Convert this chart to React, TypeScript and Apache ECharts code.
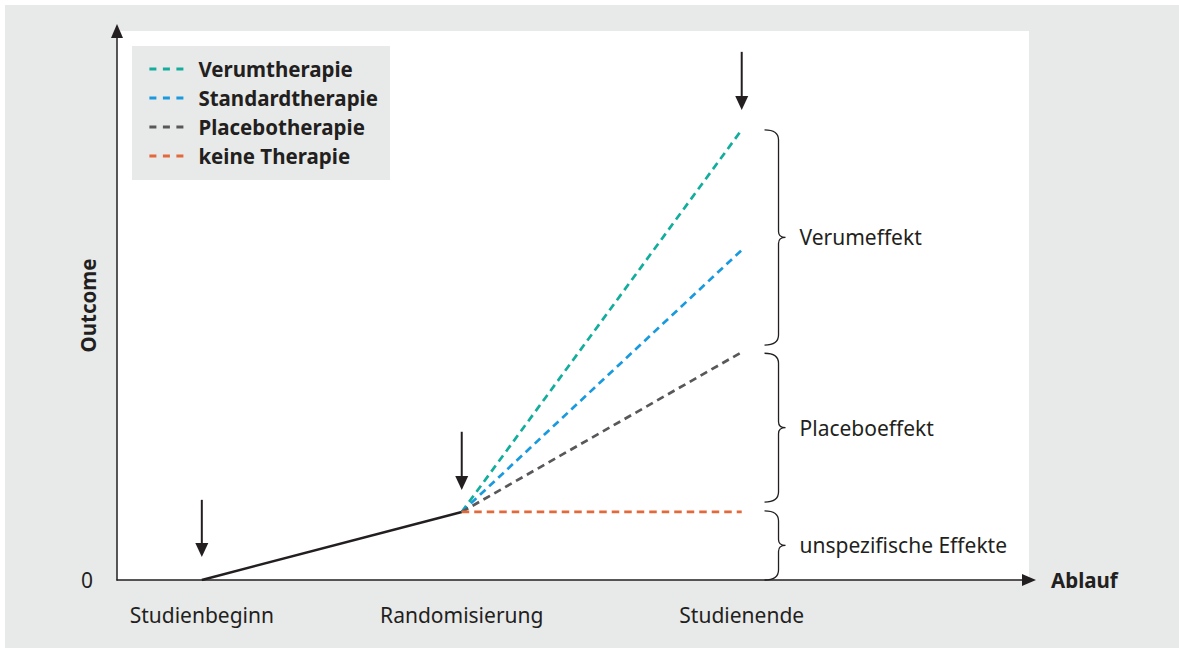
import React, { useEffect, useRef } from "react";
import * as echarts from "echarts";

// ---- data ----
const phaseNames = ["Studienbeginn", "Randomisierung", "Studienende"];
const phaseX = [9.3, 37.8, 68.5];
const startY = 0;
const randomY = 12.4;

const therapyNames = ["Verumtherapie", "Standardtherapie", "Placebotherapie", "keine Therapie"];
const therapyEnd = [82, 60.1, 41.5, 12.4];
const therapyColors = ["#12ad9c", "#1a9ade", "#58585a", "#e3683a"];

const arrowTop = [14.6, 27.0, 96.2];
const arrowTip = [4.2, 16.4, 85.6];

const braceLabels = ["Verumeffekt", "Placeboeffekt", "unspezifische Effekte"];
const braceFrom = [82, 41.3, 12.6];
const braceTo = [42.8, 14.2, 0];
const braceX = 71.0;

const yTickLabels = ["0"];
const xAxisName = "Ablauf";
const yAxisName = "Outcome";

const INK = "#231f20";
const FONT = "'Noto Sans', sans-serif";
const FS = 21;
const FSB = 20.5;

export default function App() {
  const ref = useRef<HTMLDivElement>(null);
  useEffect(() => {
    if (!ref.current) return;
    const chart = echarts.init(ref.current, null, { renderer: "svg" });

    const therapySeries = therapyNames.map((name, i) => ({
      name,
      type: "line",
      data: [
        [phaseX[1], randomY],
        [phaseX[2], therapyEnd[i]],
      ],
      symbol: "none",
      lineStyle: { color: therapyColors[i], width: 2.7, type: [7.5, 5] },
      itemStyle: { color: therapyColors[i] },
      z: 3,
    }));

    const option: any = {
      animation: false,
      backgroundColor: "#ffffff",
      graphic: [
        {
          type: "rect",
          shape: { x: 5, y: 5, width: 1174, height: 643 },
          style: { fill: "#e8e9e9" },
          z: -10,
          silent: true,
        },
      ],
      grid: {
        left: 117,
        top: 31,
        width: 912,
        height: 549,
        show: true,
        backgroundColor: "#ffffff",
        borderWidth: 0,
        containLabel: false,
      },
      legend: {
        data: therapyNames,
        orient: "vertical",
        left: 132,
        top: 46,
        backgroundColor: "#e8e9e9",
        padding: [12, 12, 13, 16],
        itemWidth: 34,
        itemHeight: 14,
        itemGap: 7,
        selectedMode: false,
        itemStyle: { opacity: 0 },
        lineStyle: { width: 2.8, type: [7, 6.5], cap: "butt" },
        textStyle: {
          fontFamily: FONT,
          fontWeight: "bold",
          fontSize: FSB,
          color: INK,
          lineHeight: 22,
          padding: [0, 0, 0, 10],
        },
      },
      xAxis: {
        type: "value",
        min: 0,
        max: 100,
        name: xAxisName,
        nameLocation: "end",
        nameGap: 22,
        nameTextStyle: { fontFamily: FONT, fontWeight: "bold", fontSize: FSB, color: INK },
        axisLine: {
          show: true,
          symbol: ["none", "triangle"],
          symbolSize: [12, 14],
          lineStyle: { color: INK, width: 1.5 },
        },
        axisTick: { show: false },
        axisLabel: { show: false },
        splitLine: { show: false },
      },
      yAxis: {
        type: "value",
        min: 0,
        max: 100,
        interval: 100,
        name: yAxisName,
        nameLocation: "middle",
        nameRotate: 90,
        nameGap: 19,
        nameMoveOverlap: false,
        nameTextStyle: { fontFamily: FONT, fontWeight: "bold", fontSize: FSB, color: INK },
        axisLine: {
          show: true,
          symbol: ["none", "triangle"],
          symbolSize: [12, 14],
          lineStyle: { color: INK, width: 1.5 },
        },
        axisTick: { show: false },
        axisLabel: {
          margin: 24,
          fontFamily: FONT,
          fontSize: FS,
          color: INK,
          formatter: (v: number) => (v === 0 ? yTickLabels[0] : ""),
        },
        splitLine: { show: false },
      },
      series: [
        {
          name: "Verlauf",
          type: "line",
          data: [
            [phaseX[0], startY],
            [phaseX[1], randomY],
          ],
          symbol: "none",
          lineStyle: { color: INK, width: 2.5 },
          z: 2,
        },
        ...therapySeries,
        {
          name: "Pfeile",
          type: "custom",
          data: phaseX.map((x, i) => [x, arrowTop[i], arrowTip[i]]),
          renderItem: (params: any, api: any) => {
            const top = api.coord([api.value(0), api.value(1)]);
            const tip = api.coord([api.value(0), api.value(2)]);
            const headH = 14;
            const headW = 6.5;
            return {
              type: "group",
              children: [
                {
                  type: "line",
                  shape: { x1: top[0], y1: top[1], x2: tip[0], y2: tip[1] - headH + 1 },
                  style: { stroke: INK, lineWidth: 2 },
                },
                {
                  type: "polygon",
                  shape: {
                    points: [
                      [tip[0] - headW, tip[1] - headH],
                      [tip[0] + headW, tip[1] - headH],
                      [tip[0], tip[1]],
                    ],
                  },
                  style: { fill: INK },
                },
              ],
            };
          },
          z: 4,
        },
        {
          name: "Phasen",
          type: "custom",
          data: phaseX.map((x, i) => [x, 0, i]),
          renderItem: (params: any, api: any) => {
            const p = api.coord([api.value(0), 0]);
            return {
              type: "text",
              x: p[0],
              y: p[1] + 35,
              style: {
                text: phaseNames[api.value(2)],
                fontFamily: FONT,
                fontSize: FS,
                fill: INK,
                align: "center",
                verticalAlign: "middle",
              },
            };
          },
        },
        {
          name: "Klammern",
          type: "custom",
          data: braceLabels.map((_, i) => [braceX, braceFrom[i], braceTo[i], i]),
          renderItem: (params: any, api: any) => {
            const a = api.coord([api.value(0), api.value(1)]);
            const b = api.coord([api.value(0), api.value(2)]);
            const x0 = a[0];
            const y0 = a[1];
            const y1 = b[1];
            const xv = x0 + 14;
            const xt = x0 + 21;
            const mid = (y0 + y1) / 2;
            const r = 10;
            const d =
              `M ${x0} ${y0} Q ${xv} ${y0} ${xv} ${y0 + r} L ${xv} ${mid - 6} ` +
              `Q ${xv} ${mid} ${xt} ${mid} Q ${xv} ${mid} ${xv} ${mid + 6} ` +
              `L ${xv} ${y1 - r} Q ${xv} ${y1} ${x0} ${y1}`;
            return {
              type: "group",
              children: [
                {
                  type: "path",
                  shape: { pathData: d },
                  style: { stroke: INK, lineWidth: 1.3, fill: "none" },
                },
                {
                  type: "text",
                  x: xt + 14,
                  y: mid,
                  style: {
                    text: braceLabels[api.value(3)],
                    fontFamily: FONT,
                    fontSize: FS,
                    fill: INK,
                    align: "left",
                    verticalAlign: "middle",
                  },
                },
              ],
            };
          },
        },
      ],
    };
    chart.setOption(option);
    return () => chart.dispose();
  }, []);
  return (
    <div
      ref={ref}
      style={{ position: "absolute", left: 0, top: 0, width: 1179, height: 648 }}
    />
  );
}
